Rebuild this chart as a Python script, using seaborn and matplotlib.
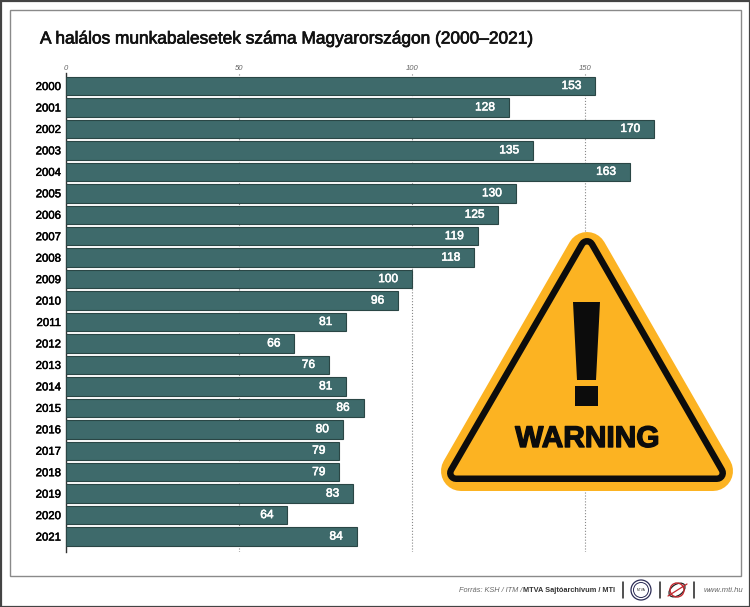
import matplotlib
matplotlib.use('Agg')
import matplotlib.pyplot as plt
import matplotlib.patheffects as pe
from matplotlib.patches import Polygon, Rectangle, Circle, Ellipse
import pandas as pd
import seaborn as sns

years = ['2000', '2001', '2002', '2003', '2004', '2005', '2006', '2007', '2008', '2009', '2010',
         '2011', '2012', '2013', '2014', '2015', '2016', '2017', '2018', '2019', '2020', '2021']
deaths = [153, 128, 170, 135, 163, 130, 125, 119, 118, 100, 96,
          81, 66, 76, 81, 86, 80, 79, 79, 83, 64, 84]
x_ticks = [0, 50, 100, 150]

title = 'A halálos munkabalesetek száma Magyarországon (2000–2021)'

FONT = ['Liberation Sans', 'DejaVu Sans']
BAR = '#3e6a6b'
EDGE = '#2a4645'
YELLOW = '#fcb322'
BLACK = '#0c0c0c'


def heavy(color, width=0.35):
    # regular face with a thin stroke, stands in for a narrow bold
    return [pe.withStroke(linewidth=width, foreground=color)]


sns.set_style('white')
plt.rcParams['font.family'] = FONT

W, H = 750, 607
fig = plt.figure(figsize=(W / 100, H / 100), dpi=100, facecolor='white')

# chart axes, placed in pixels
ax = fig.add_axes([66 / W, 1 - 552 / H, (725 - 66) / W, (552 - 73) / H], zorder=1)
ax.patch.set_alpha(0)

df = pd.DataFrame({'ev': years, 'halalos': deaths})
sns.barplot(data=df, y='ev', x='halalos', orient='h', color=BAR, saturation=1, width=0.86,
            edgecolor=EDGE, linewidth=0.8, ax=ax, zorder=3)

ax.set_xlim(0, 190.5)
ax.set_ylim(21.72, -0.606)
ax.set_xlabel('')
ax.set_ylabel('')
ax.xaxis.tick_top()
ax.set_xticks(x_ticks)
ax.set_xticklabels(x_ticks, fontsize=5.5, style='italic', color='#666666')
ax.tick_params(axis='x', length=0, pad=0.5)
ax.tick_params(axis='y', length=0, pad=3.5, labelsize=8.2, labelcolor='black')
for lab in ax.get_yticklabels():
    lab.set_path_effects(heavy('black'))
ax.grid(axis='x', color='#888888', linestyle=':', linewidth=0.8, zorder=0)
ax.grid(axis='y', visible=False)
ax.set_axisbelow(True)
for s in ['top', 'right', 'bottom']:
    ax.spines[s].set_visible(False)
ax.spines['left'].set_color('#333333')
ax.spines['left'].set_linewidth(1)

labels = ax.bar_label(ax.containers[0], padding=-10, color='white', fontsize=8.6)
for lab in labels:
    lab.set_ha('right')
    lab.set_va('center')
    lab.set_path_effects(heavy('white', 0.4))

# overlay in pixel coordinates: frame, title, sign, footer
ov = fig.add_axes([0, 0, 1, 1], zorder=2)
ov.set_xlim(0, W)
ov.set_ylim(H, 0)
ov.axis('off')
ov.patch.set_alpha(0)

ov.add_patch(Rectangle((0.5, 0.5), W - 1, H - 1, fill=False, ec='#444444', lw=1.6))
ov.add_patch(Rectangle((10, 10), 731, 566, fill=False, ec='#8a8a8a', lw=1))

ov.text(40, 39, title, fontsize=12.45, color='#111111', va='center', ha='left',
        path_effects=heavy('#111111', 0.5))

# warning sign
ov.add_patch(Polygon([(587, 252), (461, 471), (713, 471)], closed=True, fc=YELLOW, ec=YELLOW,
                     lw=40 * 0.72, joinstyle='round'))
ring = [(587, 247), (456, 473), (717, 473)]
ov.add_patch(Polygon(ring, closed=True, fc=BLACK, ec=BLACK, lw=18 * 0.72, joinstyle='round'))
ov.add_patch(Polygon(ring, closed=True, fc=YELLOW, ec=YELLOW, lw=5 * 0.72, joinstyle='round'))
ov.add_patch(Polygon([(573, 302), (600, 302), (596, 380), (577, 380)], closed=True, fc=BLACK, ec='none'))
ov.add_patch(Rectangle((575, 386), 23, 20, fc=BLACK, ec='none'))
ov.text(587.5, 439, 'WARNING', fontsize=21.5, fontweight='bold', color=BLACK, ha='center', va='center',
        path_effects=heavy(BLACK, 1.0))

# footer
ov.text(524, 590.5, 'Forrás: KSH / ITM / ', fontsize=5.3, style='italic', color='#666666', ha='right', va='center')
ov.text(615, 590.5, 'MTVA Sajtóarchívum / MTI', fontsize=5.3, fontweight='bold', color='#333333', ha='right', va='center')
ov.text(704, 590.5, 'www.mti.hu', fontsize=5.6, style='italic', color='#666666', ha='left', va='center')
for x in [623, 660, 694]:
    ov.plot([x, x], [582, 598], color='#222222', lw=1.1)
ov.add_patch(Circle((641, 590), 10, fill=False, ec='#2b2b55', lw=0.9))
ov.add_patch(Circle((641, 590), 7.5, fill=False, ec='#2b2b55', lw=0.7))
ov.text(641, 590, 'MTVA', fontsize=2.3, ha='center', va='center', color='#222222')
ov.add_patch(Ellipse((677, 590), 18, 11, angle=-35, fill=False, ec='#222222', lw=0.9))
ov.add_patch(Circle((677, 590), 7, fill=False, ec='#c0272d', lw=1))
ov.plot([668, 687], [596, 584], color='#c0272d', lw=0.9)

fig.savefig('out.png', dpi=100)
